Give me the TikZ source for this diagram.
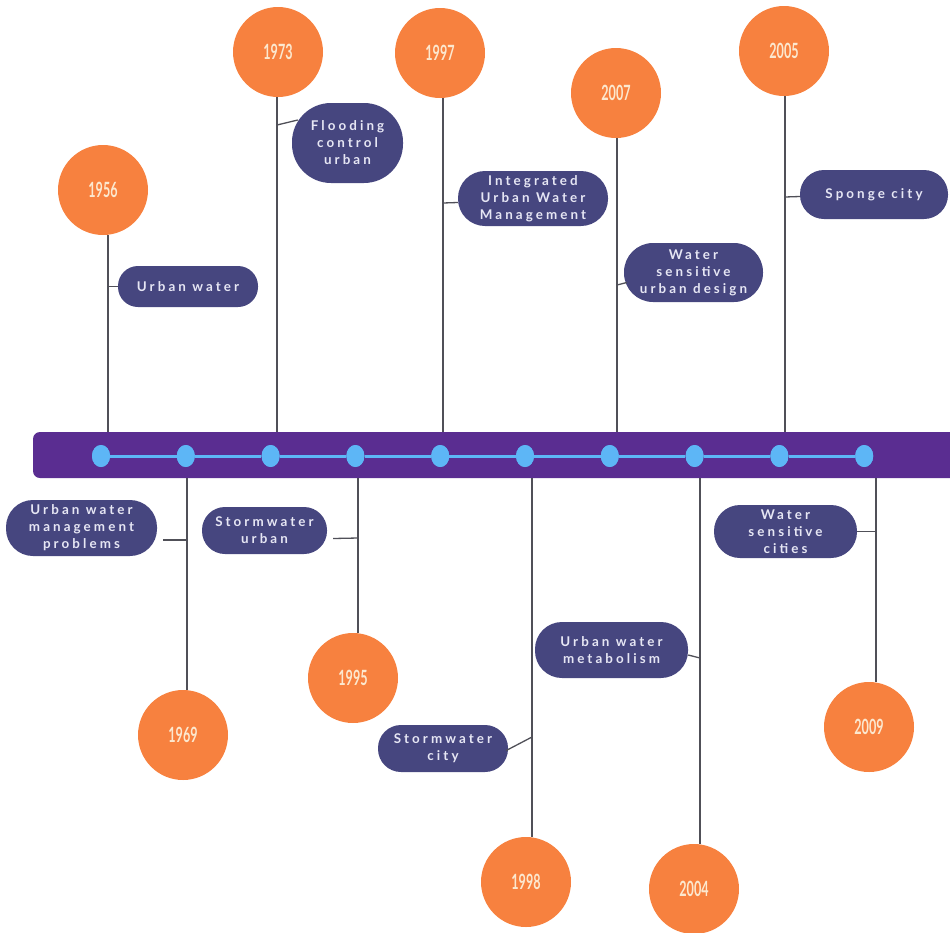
\documentclass[tikz,border=0pt]{standalone}
\usepackage{fontspec}
\usetikzlibrary{shapes.geometric}
\setmainfont{Lato}
\newfontfamily\pillfont{Lato}[LetterSpace=23]
\newfontfamily\yearfont{Lato}[FakeStretch=0.6]
\definecolor{barpurple}{HTML}{5A2D91}
\definecolor{dotblue}{HTML}{5DB6F6}
\definecolor{ballorange}{HTML}{F7813F}
\definecolor{balltext}{HTML}{FCE8CF}
\definecolor{pillblue}{HTML}{46467F}
\definecolor{pilltext}{HTML}{E6E6F4}
\definecolor{stemgray}{HTML}{505058}
\tikzset{
  yearball/.style={circle, fill=ballorange, minimum size=90pt, inner sep=0pt,
    text=balltext, font=\yearfont\bfseries\fontsize{21}{21}\selectfont},
  pill/.style n args={3}{rectangle, fill=pillblue, text=pilltext, align=center,
    inner sep=0pt, minimum width=#1, minimum height=#2, rounded corners=#3,
    font=\pillfont\bfseries\fontsize{13.4}{17}\selectfont},
  stem/.style={draw=stemgray, line width=1.3pt},
  bardot/.style={ellipse, fill=dotblue, minimum width=18pt, minimum height=22pt, inner sep=0pt},
}
\begin{document}
\begin{tikzpicture}[x=1pt, y=-1pt]
\useasboundingbox (0,0) rectangle (950,932);

% timeline bar
\node[fill=barpurple, rounded corners=7pt, minimum width=930pt, minimum height=46pt,
      inner sep=0pt] (bar) at (498,455) {};

% dots along the bar
\foreach \i in {1,...,10} {
  \node[bardot] (d\i) at ({101+84.8*(\i-1)},456) {};
}
\foreach \i [evaluate=\i as \j using int(\i+1)] in {1,...,9} {
  \draw[dotblue, line width=3pt] (d\i) -- (d\j);
}
\foreach \i in {1,...,10} { \node[bardot] at (d\i) {}; }

% year circles above
\node[yearball] (y1956) at (103,190) {1956};
\node[yearball] (y1973) at (278,52) {1973};
\node[yearball] (y1997) at (440,53) {1997};
\node[yearball] (y2007) at (616,93) {2007};
\node[yearball] (y2005) at (784,51) {2005};

% year circles below
\node[yearball] (y1969) at (183,735) {1969};
\node[yearball] (y1995) at (353,678) {1995};
\node[yearball] (y1998) at (526,882) {1998};
\node[yearball] (y2004) at (694,889) {2004};
\node[yearball] (y2009) at (869,727) {2009};

% stem positions
\coordinate (s1956) at (108,0);
\coordinate (s1973) at (277,0);
\coordinate (s1997) at (443,0);
\coordinate (s2007) at (617,0);
\coordinate (s2005) at (785,0);
\coordinate (s1969) at (187,0);
\coordinate (s1995) at (358,0);
\coordinate (s1998) at (532,0);
\coordinate (s2004) at (700,0);
\coordinate (s2009) at (876,0);

% stems from the circles to the bar
\foreach \y in {1956,1973,1997,2007,2005} {
  \draw[stem] (s\y |- y\y.south) -- (s\y |- bar.north);
}
\foreach \y in {1969,1995,1998,2004,2009} {
  \draw[stem] (s\y |- y\y.north) -- (s\y |- bar.south);
}

% labels above the bar
\node[pill={140pt}{41pt}{20pt}] (p1) at (188,286.5) {Urban water};
\node[pill={111pt}{80pt}{39pt}] (p2) at (347.5,143) {Flooding\\control\\urban};
\node[pill={150pt}{55pt}{27pt}] (p3) at (533,198.5) {Integrated\\Urban Water\\Management};
\node[pill={139pt}{59pt}{29pt}] (p4) at (693.5,272.5) {Water\\sensitive\\urban design};
\node[pill={148pt}{49pt}{24pt}] (p5) at (874,194.5) {Sponge city};

% labels below the bar
\node[pill={151pt}{56pt}{27pt}] (q1) at (81.5,528) {Urban water\\management\\problems};
\node[pill={125pt}{47pt}{23pt}] (q2) at (264.5,530.5) {Stormwater\\urban};
\node[pill={130pt}{47pt}{23pt}] (q3) at (443,748.5) {Stormwater\\city};
\node[pill={153pt}{56pt}{27pt}] (q4) at (611.5,650) {Urban water\\metabolism};
\node[pill={143pt}{53pt}{26pt}] (q5) at (785.5,531.5) {Water\\sensitive\\cities};

% short ties from the labels to the stems
\draw[stem] (p1.west) -- (s1956 |- p1.west);
\draw[stem] (p2.west) ++(6,-23) -- (s1973 |- 0,125);
\draw[stem] (p3.west) ++(0,4) -- (s1997 |- 0,203);
\draw[stem] (p4.west) ++(3,10) -- (s2007 |- 0,285);
\draw[stem] (p5.west) ++(0,2) -- (s2005 |- 0,197);
\draw[stem] (q1.east) ++(6,12) -- (s1969 |- 0,540);
\draw[stem] (q2.east) ++(6,8) -- (s1995 |- 0,538);
\draw[stem] (q3.east) ++(-2,2) -- (s1998 |- 0,737);
\draw[stem] (q4.east) ++(0,5) -- (s2004 |- 0,658);
\draw[stem] (q5.east) -- (s2009 |- q5.east);
\end{tikzpicture}
\end{document}
